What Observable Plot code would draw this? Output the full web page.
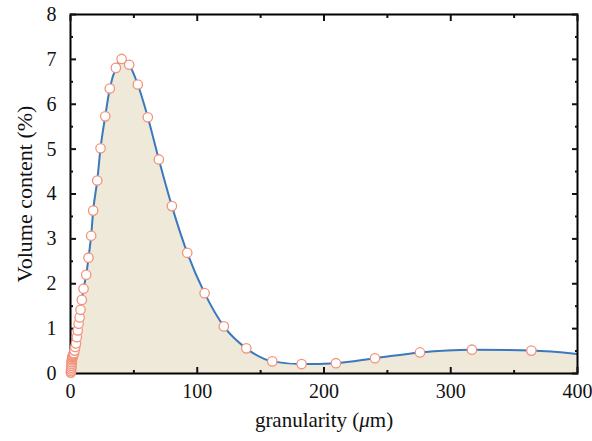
<!DOCTYPE html>
<html><head><meta charset="utf-8">
<script src="https://cdn.jsdelivr.net/npm/d3@7"></script>
<script src="https://cdn.jsdelivr.net/npm/@observablehq/plot@0.6"></script>
<style>body{margin:0;background:#fff}</style>
</head><body><div id="chart"></div>
<script>
const size_um = [0.3,0.4,0.5,0.6,0.7,0.8,0.9,1.05,1.2,1.4,1.6,1.8,2.1,2.4,2.7,3.2,3.7,4.3,5.0,5.7,6.4,7.2,7.9,8.9,10.3,12.4,14.2,16.3,17.9,21.1,23.7,27.4,31.0,35.8,40.3,46.3,53.1,61.0,69.7,80.0,92.1,105.8,121.0,138.7,159.2,182.3,209.4,240.2,275.7,316.7,363.6,417.7];
const volume_pct = [0.02,0.05,0.09,0.13,0.17,0.21,0.25,0.29,0.32,0.35,0.37,0.39,0.41,0.43,0.45,0.51,0.59,0.67,0.81,0.96,1.11,1.25,1.42,1.64,1.89,2.20,2.58,3.07,3.63,4.30,5.02,5.73,6.35,6.81,7.01,6.88,6.44,5.71,4.77,3.73,2.69,1.79,1.05,0.56,0.27,0.21,0.23,0.34,0.47,0.53,0.51,0.38];
const xMajor = [0,100,200,300,400];
const xMinor = [50,150,250,350];
const yMajor = [0,1,2,3,4,5,6,7,8];
const yMinor = [0.5,1.5,2.5,3.5,4.5,5.5,6.5,7.5];
const xTitle = "granularity (μm)";
const yTitle = "Volume content (%)";

const data = size_um.map((x, i) => ({x, y: volume_pct[i]}));
const shown = data.filter(d => d.x <= 400);
const blank = () => "";

const chart = Plot.plot({
  width: 592, height: 441,
  marginLeft: 70, marginRight: 15, marginTop: 14, marginBottom: 68,
  style: {fontFamily: "Liberation Serif", fontSize: "20px", color: "#111", background: "#fff", overflow: "visible"},
  x: {domain: [0, 400]},
  y: {domain: [0, 8]},
  marks: [
    Plot.areaY(data, {x: "x", y: "y", curve: "monotone-x", fill: "#EFE9DA", clip: true}),
    Plot.line(data, {x: "x", y: "y", curve: "monotone-x", stroke: "#3B78BD", strokeWidth: 2, clip: true}),
    Plot.frame({stroke: "#000", strokeWidth: 2}),
    Plot.axisX({anchor: "bottom", ticks: xMajor, tickSize: -6, tickFormat: blank, strokeWidth: 2, label: null}),
    Plot.axisX({anchor: "bottom", ticks: xMinor, tickSize: -3, tickFormat: blank, strokeWidth: 2, label: null}),
    Plot.axisX({anchor: "top", ticks: xMajor, tickSize: -6, tickFormat: blank, strokeWidth: 2, label: null}),
    Plot.axisX({anchor: "top", ticks: xMinor, tickSize: -3, tickFormat: blank, strokeWidth: 2, label: null}),
    Plot.axisY({anchor: "left", ticks: yMajor, tickSize: -6, tickFormat: blank, strokeWidth: 2, label: null}),
    Plot.axisY({anchor: "left", ticks: yMinor, tickSize: -3, tickFormat: blank, strokeWidth: 2, label: null}),
    Plot.axisY({anchor: "right", ticks: yMajor, tickSize: -6, tickFormat: blank, strokeWidth: 2, label: null}),
    Plot.axisY({anchor: "right", ticks: yMinor, tickSize: -3, tickFormat: blank, strokeWidth: 2, label: null}),
    Plot.axisX({anchor: "bottom", ticks: xMajor, tickSize: 0, tickPadding: 10, label: null}),
    Plot.axisY({anchor: "left", ticks: yMajor, tickSize: 0, tickPadding: 14, label: null}),
    Plot.text([xTitle], {frameAnchor: "bottom", dy: 47, lineAnchor: "middle", textAnchor: "middle", fontSize: 21, text: d => d}),
    Plot.text([yTitle], {frameAnchor: "left", dx: -46, rotate: -90, lineAnchor: "middle", textAnchor: "middle", fontSize: 22, text: d => d}),
    Plot.dot(shown, {x: "x", y: "y", r: 4.7, fill: "white", stroke: "#F2937C", strokeWidth: 1.3})
  ]
});
document.getElementById("chart").append(chart);
// italic mu in x title
d3.select(chart).selectAll("text").filter(function() { return this.textContent === xTitle; }).each(function() {
  const t = d3.select(this);
  t.text(null);
  t.append("tspan").text("granularity (");
  t.append("tspan").attr("font-style", "italic").text("μ");
  t.append("tspan").text("m)");
});
</script>
</body></html>
